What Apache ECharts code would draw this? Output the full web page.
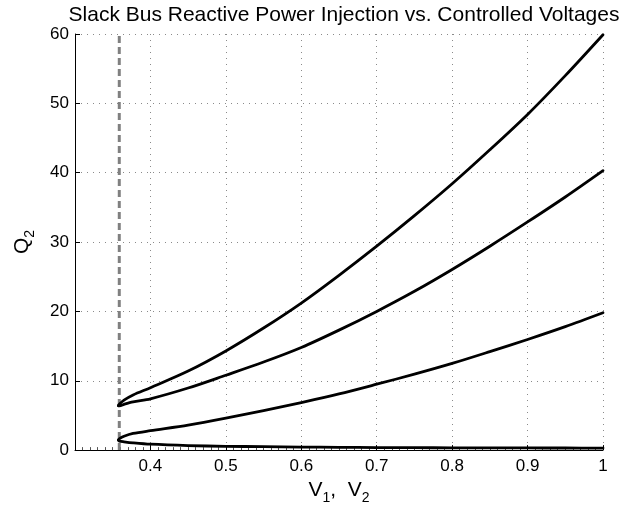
<!DOCTYPE html>
<html>
<head>
<meta charset="utf-8">
<script src="https://cdn.jsdelivr.net/npm/echarts@6/dist/echarts.min.js"></script>
<style>
  html, body { margin: 0; padding: 0; background: #fff; }
  #chart { width: 644px; height: 510px; }
</style>
</head>
<body>
<div id="chart"></div>
<script>
  // voltage samples (first entry is the nose where both branches of a pair meet)
  const voltage = [0.3575, 0.359, 0.365, 0.377, 0.4, 0.45, 0.5, 0.55, 0.6, 0.65, 0.7, 0.75, 0.8, 0.85, 0.9, 0.95, 1.0];
  const qUpperA = [6.4, 6.64, 7.2, 7.95, 9.0, 11.4, 14.3, 17.6, 21.2, 25.2, 29.4, 33.8, 38.4, 43.3, 48.4, 54.0, 59.9];
  const qLowerA = [6.4, 6.38, 6.6, 6.95, 7.4, 8.95, 10.8, 12.7, 14.8, 17.3, 20.0, 22.9, 26.05, 29.4, 32.9, 36.5, 40.3];
  const qUpperB = [1.45, 1.66, 2.0, 2.4, 2.8, 3.6, 4.6, 5.7, 6.86, 8.1, 9.5, 10.95, 12.5, 14.2, 15.95, 17.8, 19.8];
  const qLowerB = [1.45, 1.30, 1.2, 1.05, 0.85, 0.65, 0.55, 0.49, 0.44, 0.40, 0.37, 0.35, 0.33, 0.32, 0.31, 0.30, 0.29];
  const voltageLimit = 0.3587;
  const xTicks = [0.3, 0.4, 0.5, 0.6, 0.7, 0.8, 0.9, 1];
  const yTicks = [0, 10, 20, 30, 40, 50, 60];

  const chart = echarts.init(document.getElementById('chart'));
  const font = 'Liberation Sans, Arial, Helvetica, sans-serif';
  const gridLine = { show: true, lineStyle: { color: '#8a8a8a', type: [1, 5], width: 1 } };
  const subRich = {
    a: { fontFamily: font, fontSize: 21, color: '#000', verticalAlign: 'top', lineHeight: 23 },
    s: { fontFamily: font, fontSize: 14, color: '#000', verticalAlign: 'top', padding: [11, 0, 0, 0], lineHeight: 23 }
  };

  const branch = (name, values) => ({
    name: name,
    type: 'line',
    data: voltage.map((v, i) => [v, values[i]]),
    smooth: 0.3,
    showSymbol: false,
    lineStyle: { color: '#000', width: 2.8, cap: 'round', join: 'round' },
    z: 3
  });

  chart.setOption({
    animation: false,
    title: {
      text: 'Slack Bus Reactive Power Injection vs. Controlled Voltages',
      left: 339,
      top: 0,
      textAlign: 'center',
      textStyle: { fontFamily: font, fontSize: 21, fontWeight: 'normal', color: '#000' }
    },
    grid: { left: 75, right: 41, top: 34, bottom: 56 },
    xAxis: {
      type: 'value',
      min: xTicks[0],
      max: xTicks[xTicks.length - 1],
      interval: 0.1,
      name: '{a|V}{s|1}{a|,  V}{s|2}',
      nameLocation: 'middle',
      nameGap: 24,
      nameTextStyle: { rich: subRich },
      axisLine: { show: true, onZero: false, lineStyle: { color: '#000', width: 1 } },
      axisTick: { show: true, inside: true, length: 5, lineStyle: { color: '#000' } },
      minorTick: { show: true, splitNumber: 10, length: 3, lineStyle: { color: '#555' } },
      axisLabel: {
        color: '#000', fontFamily: font, fontSize: 17, margin: 8,
        formatter: v => (v < 0.35 ? '' : String(+v.toFixed(1)))
      },
      splitLine: gridLine
    },
    yAxis: {
      type: 'value',
      min: yTicks[0],
      max: yTicks[yTicks.length - 1],
      interval: 10,
      name: '{a|Q}{s|2}',
      nameLocation: 'middle',
      nameRotate: 90,
      nameGap: 40,
      nameTextStyle: { rich: subRich },
      axisLine: { show: true, lineStyle: { color: '#000', width: 1 } },
      axisTick: { show: true, inside: true, length: 5, lineStyle: { color: '#000' } },
      axisLabel: { color: '#000', fontFamily: font, fontSize: 17, margin: 6 },
      splitLine: gridLine
    },
    series: [
      branch('upperA', qUpperA),
      branch('lowerA', qLowerA),
      branch('upperB', qUpperB),
      branch('lowerB', qLowerB),
      {
        name: 'limit',
        type: 'line',
        data: [[voltageLimit, yTicks[0]], [voltageLimit, yTicks[yTicks.length - 1]]],
        showSymbol: false,
        lineStyle: { color: '#808080', width: 3, type: [7, 4] },
        z: 2
      }
    ]
  });
</script>
</body>
</html>
